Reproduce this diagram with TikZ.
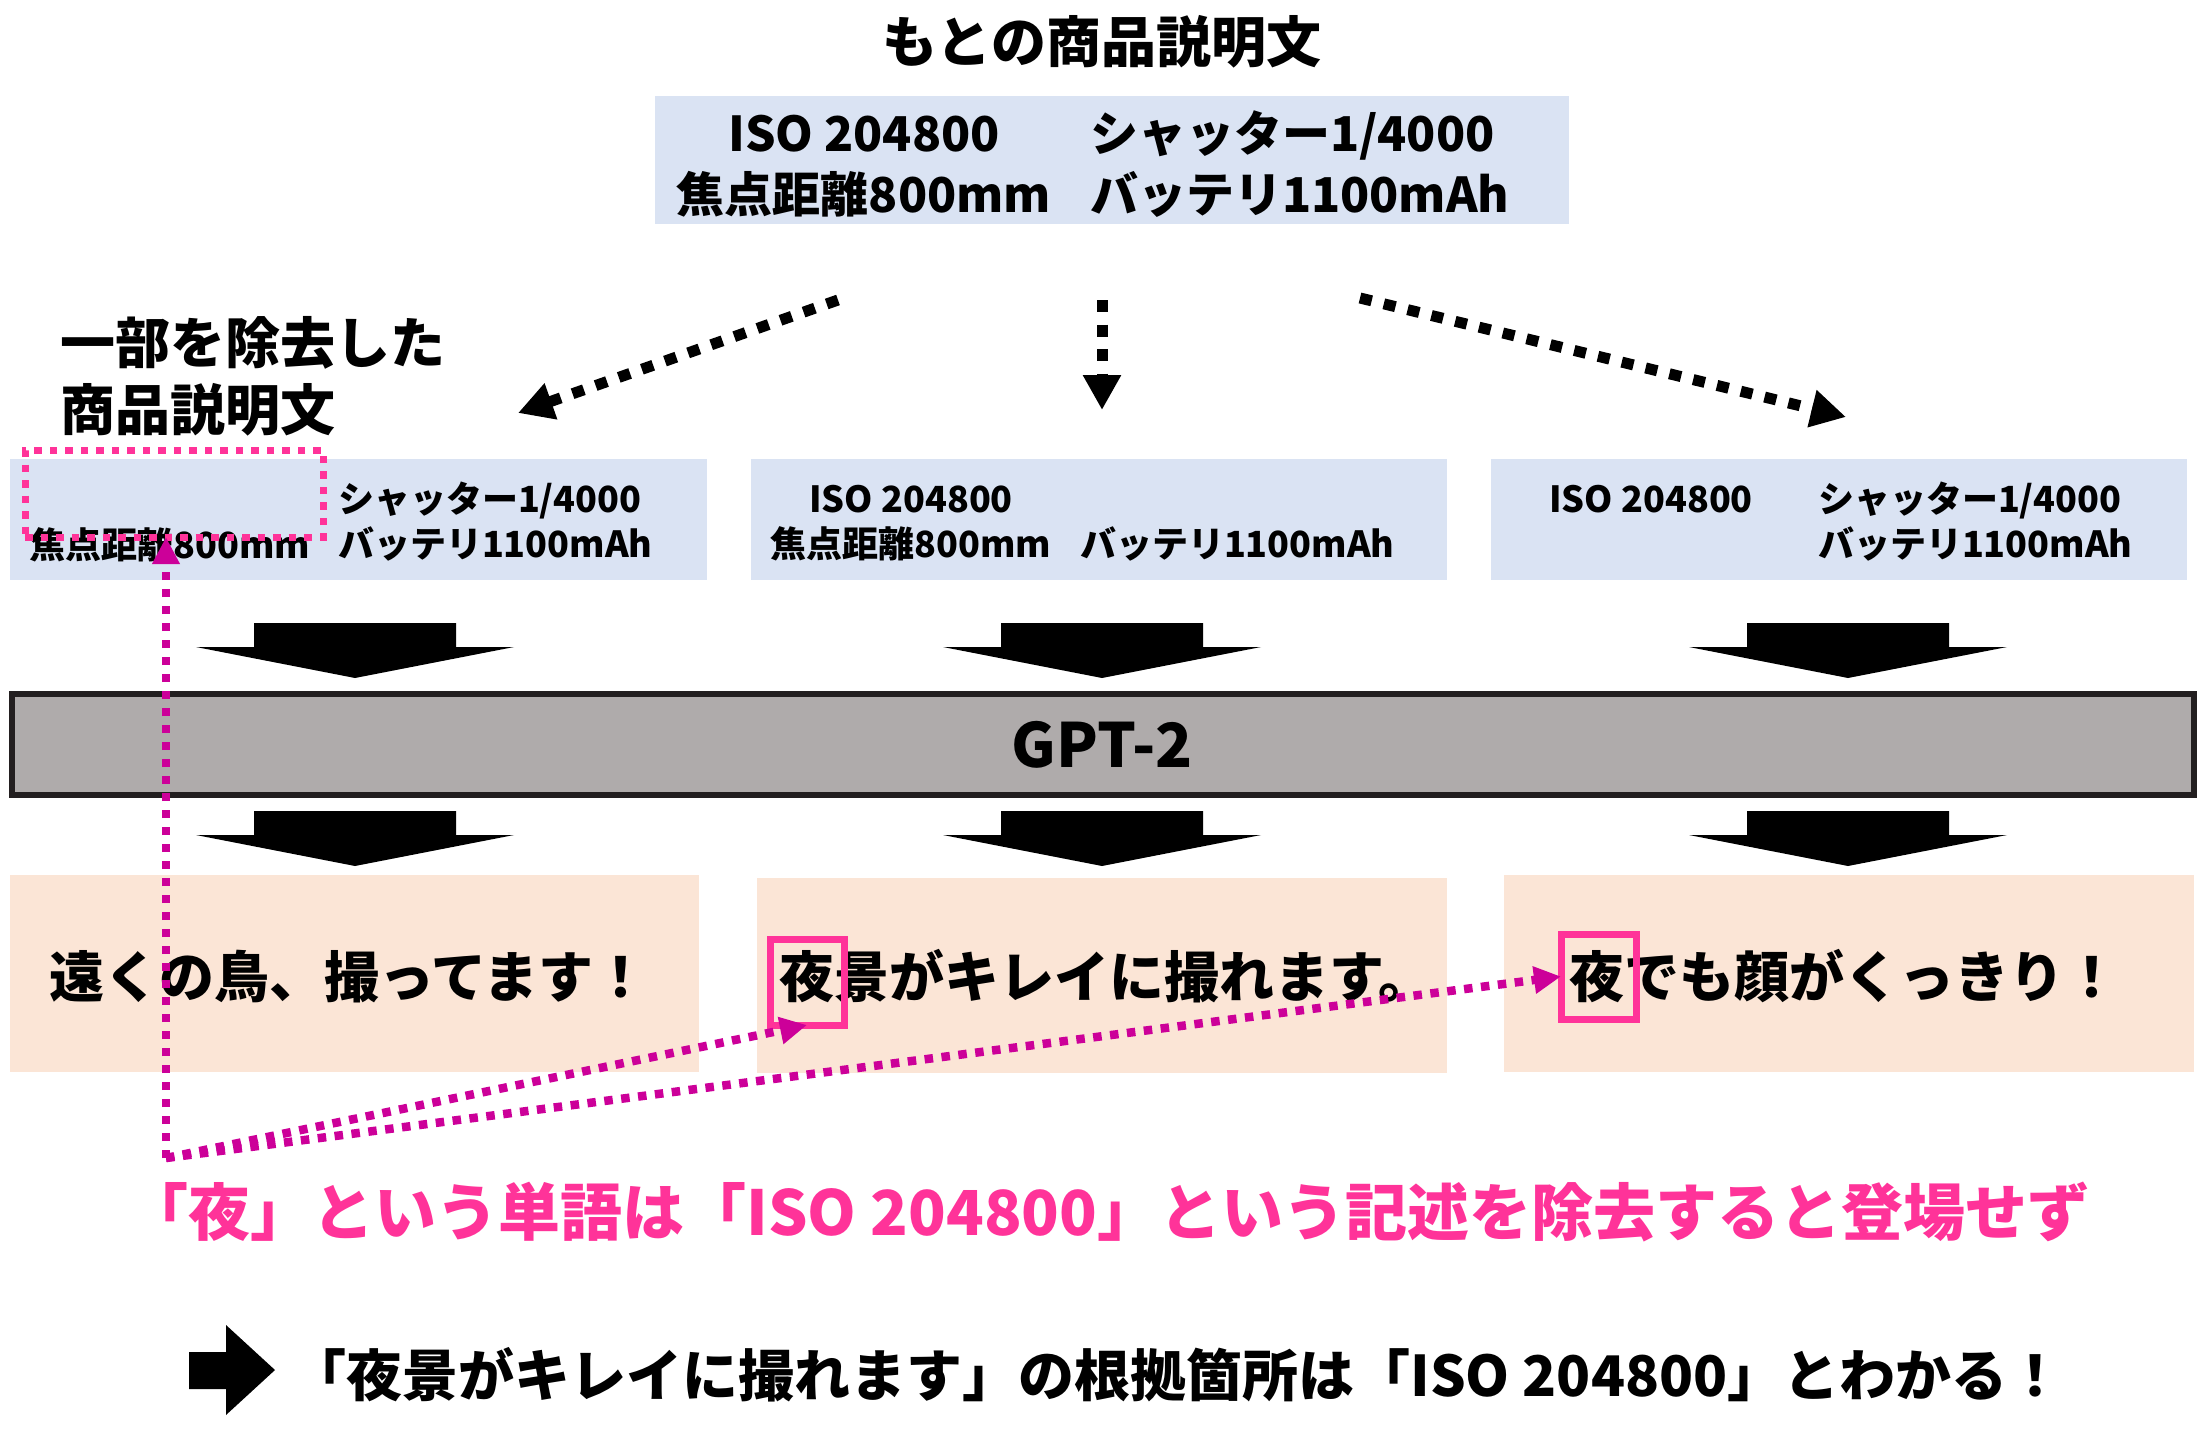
\documentclass[tikz,border=0pt]{standalone}
\usepackage{fontspec}
\setmainfont{Noto Sans CJK JP}
\usetikzlibrary{arrows.meta}
\definecolor{boxblue}{HTML}{DAE3F3}
\definecolor{boxpeach}{HTML}{FBE5D6}
\definecolor{gptgray}{HTML}{AFABAB}
\definecolor{gptline}{HTML}{231F20}
\definecolor{hotpink}{HTML}{FF3399}
\definecolor{magline}{HTML}{CC0099}
\begin{document}
\begin{tikzpicture}[x=1pt,y=-1pt,
  f55/.style={inner sep=0pt, outer sep=0pt, font=\fontsize{55}{60}\selectfont\bfseries, text height=48.4pt, text depth=6.6pt},
  f56/.style={inner sep=0pt, outer sep=0pt, font=\fontsize{56}{60}\selectfont\bfseries, text height=49.3pt, text depth=6.7pt},
  f62/.style={inner sep=0pt, outer sep=0pt, font=\fontsize{62}{66}\selectfont\bfseries, text height=54.6pt, text depth=7.4pt},
  f48/.style={inner sep=0pt, outer sep=0pt, font=\fontsize{48}{52}\selectfont\bfseries, text height=42.24pt, text depth=5.76pt},
  f36/.style={inner sep=0pt, outer sep=0pt, font=\fontsize{36}{40}\selectfont\bfseries, text height=31.68pt, text depth=4.32pt},
  gptfont/.style={inner sep=0pt, outer sep=0pt, font=\fontsize{61}{66}\selectfont\bfseries, text height=44.5pt, text depth=0pt},
  bluebox/.style={fill=boxblue, inner sep=0pt, outer sep=0pt, anchor=north west},
  peachbox/.style={fill=boxpeach, inner sep=0pt, outer sep=0pt, anchor=north west},
  yorubox/.style={draw=hotpink, line width=7pt, inner sep=0pt, outer sep=0pt},
  blkdot/.style={draw=black, line width=11pt, dash pattern=on 12pt off 12.5pt, -{Triangle[length=35pt,width=36pt]}},
  magdot/.style={draw=magline, line width=8.5pt, dash pattern=on 8.5pt off 8.5pt, -{Triangle[length=27pt,width=26pt]}},
  bigdown/.pic={\fill[black] (-101,0) -- (101,0) -- (101,24) -- (159,24) -- (0,55) -- (-159,24) -- (-101,24) -- cycle;}
]
\useasboundingbox (0,0) rectangle (2210,1429);
\fill[white] (0,0) rectangle (2210,1429);

% title
\node[f55] (title) at (1102,42) {もとの商品説明文};

% original description box
\node[bluebox, minimum width=914, minimum height=128] (orig) at (655,96) {};
\node[f48] (o1) at (864,133) {ISO 204800};
\node[f48] (o2) at (864,194) {焦点距離800mm};
\node[f48, anchor=west] (o3) at (1090,133) {シャッター1/4000};
\node[f48, anchor=west] (o4) at (1090,194) {バッテリ1100mAh};

% label
\node[f55, anchor=west] (rem1) at (60,343) {一部を除去した};
\node[f55, anchor=west] (rem2) at (60,410) {商品説明文};

% dotted black arrows
\coordinate (s1) at (838,300); \coordinate (e1) at (518,413);
\coordinate (s2) at (1102,300); \coordinate (e2) at (1102,410);
\coordinate (s3) at (1360,298); \coordinate (e3) at (1846,417);
\draw[blkdot] (s1) -- (e1);
\draw[blkdot] (s2) -- (e2);
\draw[blkdot] (s3) -- (e3);

% partial description boxes
\node[bluebox, minimum width=697, minimum height=121] (pa) at (10,459) {};
\node[bluebox, minimum width=696, minimum height=121] (pb) at (751,459) {};
\node[bluebox, minimum width=696, minimum height=121] (pc) at (1491,459) {};

\node[f36] (pa1) at (170,545) {焦点距離800mm};
\node[f36, anchor=west] (pa2) at (338,499) {シャッター1/4000};
\node[f36, anchor=west] (pa3) at (338,544) {バッテリ1100mAh};

\node[f36] (pb1) at (911,499) {ISO 204800};
\node[f36] (pb2) at (911,544) {焦点距離800mm};
\node[f36, anchor=west] (pb3) at (1080,544) {バッテリ1100mAh};

\node[f36] (pc1) at (1651,499) {ISO 204800};
\node[f36, anchor=west] (pc2) at (1818,499) {シャッター1/4000};
\node[f36, anchor=west] (pc3) at (1818,544) {バッテリ1100mAh};

% removed part
\node[draw=hotpink, line width=7pt, dash pattern=on 7.5pt off 8pt, inner sep=0pt, outer sep=0pt, anchor=north west, minimum width=298, minimum height=87] (removed) at (25,450) {};

% big arrows
\foreach \c in {355,1102,1848} {
  \pic at (\c,623) {bigdown};
  \pic at (\c,811) {bigdown};
}

% GPT-2
\draw[fill=gptgray, draw=gptline, line width=6pt] (12,694) rectangle (2194,795);
\node[gptfont] (gpt) at (1102,745) {GPT-2};

% outputs
\node[peachbox, minimum width=689, minimum height=197] (qa) at (10,875) {};
\node[peachbox, minimum width=690, minimum height=195] (qb) at (757,878) {};
\node[peachbox, minimum width=690, minimum height=197] (qc) at (1504,875) {};
\node[f55, anchor=west] (ta) at (49,977) {遠くの鳥、撮ってます！};
\node[f55, anchor=west] (tb) at (779,977) {夜景がキレイに撮れます。};
\node[f55, anchor=west] (tc) at (1569,977) {夜でも顔がくっきり！};

\node[yorubox, minimum width=74, minimum height=86] (yoru1) at (807,982) {};
\node[yorubox, minimum width=75, minimum height=85] (yoru2) at (1598.5,976.5) {};

% magenta dotted arrows
\coordinate (corner) at (166,1158);
\coordinate (ptip) at (166,537);
\draw[magdot] (corner) -- (ptip);
\draw[magdot] (corner) -- (yoru1.south);
\draw[magdot] (corner) -- (yoru2.west);

% explanation
\node[f62, text=hotpink] (expl) at (1108,1212) {「夜」という単語は「ISO 204800」という記述を除去すると登場せず};

% conclusion
\fill[black] (189,1352) -- (226,1352) -- (226,1325) -- (275,1370) -- (226,1415) -- (226,1389) -- (189,1389) -- cycle;
\node[f56] (concl) at (1177,1375) {「夜景がキレイに撮れます」の根拠箇所は「ISO 204800」とわかる！};
\end{tikzpicture}
\end{document}
